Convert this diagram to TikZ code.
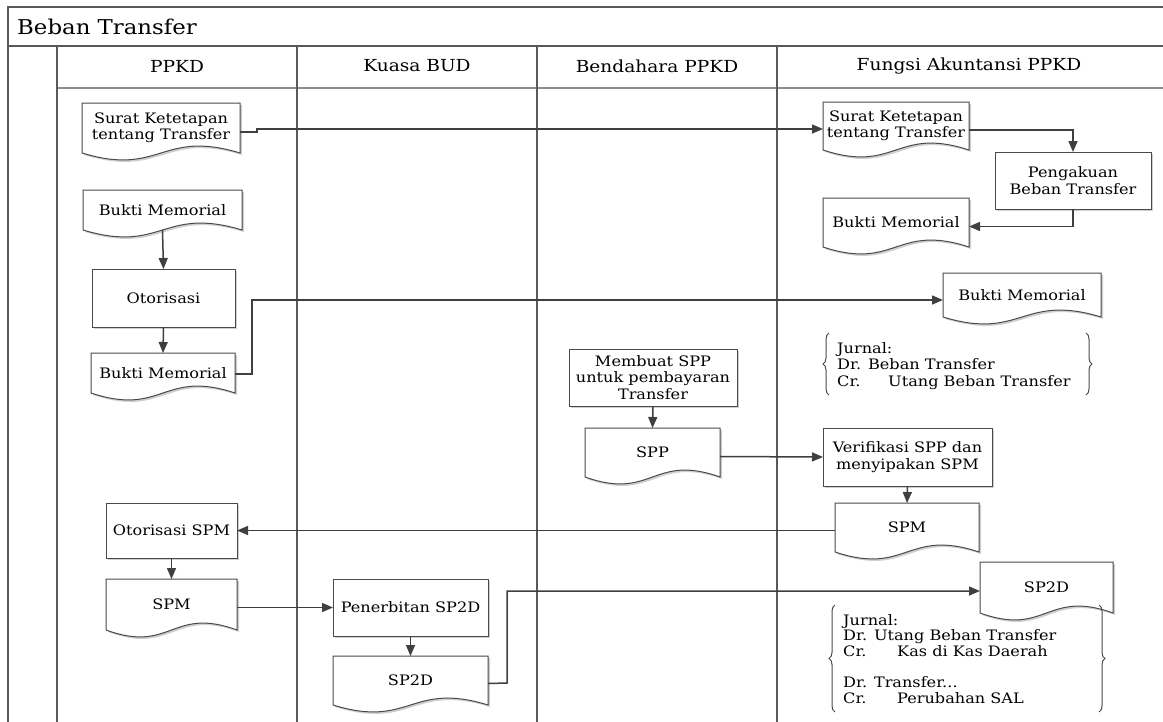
\documentclass[tikz,border=0pt]{standalone}
\usepackage{fontspec}
\setmainfont{DejaVu Serif}[FakeStretch=1.12]
\usetikzlibrary{arrows.meta,decorations.pathreplacing}
\definecolor{laneC}{HTML}{595959}
\definecolor{connC}{HTML}{3F3F3F}
\definecolor{shapeC}{HTML}{4A4A4A}
\definecolor{shadowC}{HTML}{CFCFCF}
\newcommand\bodyfont{\fontsize{14.4}{16.5}\selectfont}
\newcommand\headfont{\fontsize{16.6}{19}\selectfont}
\newcommand\titlefont{\fontsize{20.4}{23}\selectfont}
\tikzset{
  lanes/.style={draw=laneC, line width=2pt},
  conn/.style={draw=connC, line width=1.5pt, -{Triangle[length=11pt,width=9pt]}},
  shapeline/.style={draw=shapeC, line width=1pt, fill=white},
  shadowfill/.style={fill=shadowC, transform canvas={xshift=2pt,yshift=-2pt}},
  lbl/.style={inner sep=0pt, outer sep=0pt, align=center, font=\bodyfont},
  jrnl/.style={inner sep=0pt, align=left, font=\bodyfont, anchor=north west},
  bracecurl/.style={draw=shapeC, line width=1pt, decorate, decoration={brace, amplitude=6pt, aspect=0.5}},
}
% name, x1, y1, x2, y2, text
\newcommand\docnode[6]{%
  \path[shadowfill] (#2,#3) -- (#4,#3) -- (#4,#5) .. controls ({(#2+#4)/2},{#5-24}) and ({(#2+#4)/2},{#5+24}) .. (#2,#5) -- cycle;
  \path[shapeline] (#2,#3) -- (#4,#3) -- (#4,#5) .. controls ({(#2+#4)/2},{#5-24}) and ({(#2+#4)/2},{#5+24}) .. (#2,#5) -- cycle;
  \node[lbl, minimum width={(#4-#2)*1pt}, minimum height={(#5-#3)*1pt}] (#1) at ({(#2+#4)/2},{(#3+#5)/2}) {#6};
}
\newcommand\boxnode[6]{%
  \path[shadowfill] (#2,#3) rectangle (#4,#5);
  \node[lbl, shapeline, minimum width={(#4-#2)*1pt}, minimum height={(#5-#3)*1pt}] (#1) at ({(#2+#4)/2},{(#3+#5)/2}) {#6};
}
\begin{document}
\begin{tikzpicture}[x=1pt,y=-1pt]
\useasboundingbox (0,0) rectangle (1163,721);
% swimlanes
\draw[lanes] (8,730) -- (8,7) -- (1175,7);
\draw[lanes] (8,46) -- (1175,46);
\draw[lanes, draw=laneC!70] (57,88) -- (1175,88);
\foreach \x in {57,297,537,777} \draw[lanes] (\x,46) -- (\x,730);
\node[anchor=west, font=\titlefont, inner sep=0pt] (title) at (17,27) {Beban Transfer};
\node[font=\headfont] (hA) at (177,66) {PPKD};
\node[font=\headfont] (hB) at (417,66) {Kuasa BUD};
\node[font=\headfont] (hC) at (657,66) {Bendahara PPKD};
\node[font=\headfont] (hD) at (969,66) {Fungsi Akuntansi PPKD};
% PPKD
\docnode{d1}{82}{103}{240}{153}{Surat Ketetapan\\tentang Transfer}
\docnode{d2}{83}{190}{242}{230}{Bukti Memorial}
\boxnode{b1}{92}{269}{235}{327}{Otorisasi}
\docnode{d3}{91}{353}{235}{393}{Bukti Memorial}
\boxnode{b2}{106}{503}{237}{558}{Otorisasi SPM}
\docnode{d4}{106}{579}{237}{630}{SPM}
% Kuasa BUD
\boxnode{b3}{333}{579}{488}{636}{Penerbitan SP2D}
\docnode{d5}{333}{656}{488}{705}{SP2D}
% Bendahara
\boxnode{b4}{569}{349}{737}{406}{Membuat SPP\\untuk pembayaran\\Transfer}
\docnode{d6}{585}{428}{720}{477}{SPP}
% Fungsi Akuntansi
\docnode{d7}{823}{102}{969}{150}{Surat Ketetapan\\tentang Transfer}
\boxnode{b5}{995}{152}{1151}{209}{Pengakuan\\Beban Transfer}
\docnode{d8}{823}{198}{969}{247}{Bukti Memorial}
\docnode{d9}{943}{273}{1101}{317}{Bukti Memorial}
\boxnode{b6}{823}{428}{992}{486}{Verifikasi SPP dan\\menyipakan SPM}
\docnode{d10}{835}{503}{979}{552}{SPM}
\docnode{d11}{980}{562}{1113}{613}{SP2D}
% journals
\node[jrnl] (j1) at (837,342) {Jurnal:\\Dr. Beban Transfer\\\makebox[51pt][l]{Cr.}Utang Beban Transfer};
\draw[bracecurl] (829,395) -- (829,333);
\draw[bracecurl] (1086,333) -- (1086,395);
\node[jrnl, font=\fontsize{14.4}{15.7}\selectfont] (j2) at (843,614) {Jurnal:\\Dr. Utang Beban Transfer\\\makebox[54pt][l]{Cr.}Kas di Kas Daerah\\[15.7pt]Dr. Transfer...\\\makebox[54pt][l]{Cr.}Perubahan SAL};
\draw[bracecurl] (835,712) -- (835,605);
\draw[bracecurl] (1099,605) -- (1099,712);
% connectors
\draw[conn] ([yshift=-4pt]d1.east) -- (257,132) -- (257,129) -- (d7.west |- 0,129);
\draw[conn] ([yshift=-4pt]d7.east) -| (b5.north);
\draw[conn] (b5.south) |- ([yshift=-4pt]d8.east);
\draw[conn] (d2.south) -- (b1.north);
\draw[conn] (b1.south) -- (d3.north);
\draw[conn] ([yshift=-1pt]d3.east) -- (252,374) |- ([yshift=-5pt]d9.west);
\draw[conn] (b4.south) -- (d6.north);
\draw[conn] ([yshift=-4pt]d6.east) -- (b6.west);
\draw[conn] (b6.south) -- (d10.north);
\draw[conn] ([yshift=-3pt]d10.west) -- (b2.east);
\draw[conn] (b2.south) -- (d4.north);
\draw[conn] ([yshift=-3pt]d4.east) -- (b3.west);
\draw[conn] (b3.south) -- (d5.north);
\draw[conn] ([yshift=-3pt]d5.east) -- (507,683) |- ([yshift=-3.5pt]d11.west);
\end{tikzpicture}
\end{document}
